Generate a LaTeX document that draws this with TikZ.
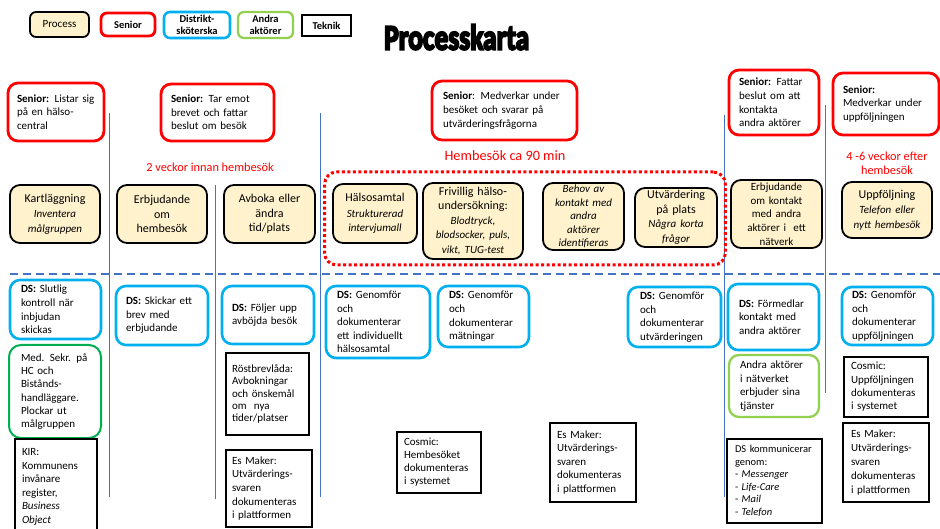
\documentclass[tikz,border=0pt]{standalone}
\usepackage{fontspec}
\usepackage{graphicx}
\setmainfont{Carlito}
\newfontfamily\titlefont[BoldFeatures={FakeBold=6}]{Carlito}
\definecolor{cream}{HTML}{FFF2CC}
\definecolor{dscyan}{HTML}{00B0F0}
\definecolor{lgreen}{HTML}{92D050}
\definecolor{dgreen}{HTML}{00B050}
\definecolor{laneblue}{HTML}{4472C4}
\definecolor{sred}{HTML}{FF0000}
\newcommand\subit[1]{{\fontsize{11}{13.5}\selectfont\itshape #1}}
% name, style, x1, y1, x2, y2, pad, text
\newcommand\bx[8]{%
  \pgfmathsetmacro\bxw{#5-#3}%
  \pgfmathsetmacro\bxh{#6-#4}%
  \pgfmathsetmacro\bxt{#5-#3-2*#7}%
  \node[#2, minimum width=\bxw pt, minimum height=\bxh pt, text width=\bxt pt] (#1) at ({(#3+#5)/2},{(#4+#6)/2}) {#8};}
\tikzset{
  bxbase/.style={inner sep=0pt, outer sep=0pt, font=\fontsize{11}{13.6}\selectfont},
  senior/.style={bxbase, draw=sred, fill=white, line width=2.8pt, rounded corners=10pt, align=left},
  proc/.style={bxbase, draw=black, line width=1.8pt, rounded corners=10pt, fill=cream, align=center, font=\fontsize{12}{14.5}\selectfont},
  ds/.style={bxbase, draw=dscyan, fill=white, line width=2.6pt, rounded corners=10pt, align=left},
  sekr/.style={bxbase, draw=dgreen, fill=white, line width=2pt, rounded corners=12pt, align=left, font=\fontsize{11}{13.3}\selectfont},
  other/.style={bxbase, draw=lgreen, fill=white, line width=2.3pt, rounded corners=10pt, align=left},
  tek/.style={bxbase, draw=black, fill=white, line width=2.2pt, align=left, font=\fontsize{11}{13.5}\selectfont},
  legend/.style={font=\fontsize{10.5}{12}\selectfont\bfseries, align=center, rounded corners=6pt},
  lane/.style={draw=laneblue, line width=0.9pt},
  redlbl/.style={text=sred, inner sep=0pt, font=\fontsize{12.3}{14}\selectfont, align=center},
  hbox/.style={draw=sred, line width=3pt, dash pattern=on 3pt off 2.5pt, rounded corners=12pt},
}
\begin{document}
\begin{tikzpicture}[x=1pt,y=-1pt]
\fill[white] (0,0) rectangle (940,529);
\useasboundingbox (0,0) rectangle (940,529);

% lanes
\coordinate (v1a) at (109,113); \coordinate (v1b) at (109,497);
\coordinate (v2a) at (215,185); \coordinate (v2b) at (215,499);
\coordinate (v3a) at (320,113); \coordinate (v3b) at (320,497);
\coordinate (v4a) at (724,115); \coordinate (v4b) at (724,497);
\coordinate (v5a) at (825,105); \coordinate (v5b) at (825,393);
\draw[lane] (v1a) -- (v1b);
\draw[lane] (v2a) -- (v2b);
\draw[lane] (v3a) -- (v3b);
\draw[lane] (v4a) -- (v4b);
\draw[lane] (v5a) -- (v5b);
\coordinate (hA) at (10,274); \coordinate (hB) at (940,274);
\draw[draw=laneblue, line width=1.8pt, dash pattern=on 8pt off 5pt] (hA) -- (hB);

% legend
\bx{lgP}{proc,legend,font=\fontsize{11}{12}\selectfont,rounded corners=6pt}{30}{12}{89}{37}{2}{Process}
\bx{lgS}{senior,legend}{101}{13}{155}{36}{2}{Senior}
\bx{lgD}{ds,legend}{164}{12}{230}{38}{2}{Distrikt-\\sköterska}
\bx{lgA}{other,legend}{238}{12}{293}{38}{2}{Andra\\aktörer}
\bx{lgT}{tek,legend,rounded corners=0pt}{302}{15}{351}{36}{2}{Teknik}

% title
\node[anchor=south west, inner sep=0pt] (title) at (384,50) {\resizebox{145pt}{25pt}{\titlefont\bfseries Processkarta}};

% senior row
\bx{s1}{senior}{8}{83}{104}{141}{9}{\textbf{Senior:} Listar sig\\på en hälso-\\central}
\bx{s2}{senior}{161}{84}{274}{141}{10}{\textbf{Senior:} Tar emot\\brevet och fattar\\beslut om besök}
\bx{s3}{senior}{432}{81}{577}{140}{11}{\textbf{Senior}: Medverkar under\\besöket och svarar på\\utvärderingsfrågorna}
\bx{s4}{senior}{729}{70}{819}{135}{10}{\textbf{Senior:} Fattar\\beslut om att\\kontakta\\andra aktörer}
\bx{s5}{senior}{833}{73}{939}{135}{10}{\textbf{Senior:}\\Medverkar under\\uppföljningen}

% red labels
\node[redlbl] (l1) at (210,167) {2 veckor innan hembesök};
\node[redlbl, font=\fontsize{14.3}{16}\selectfont] (l2) at (505,156) {Hembesök ca 90 min};
\node[redlbl] (l3) at (887,163) {4 -6 veckor efter\\hembesök};

% home visit frame
\bx{hb}{hbox}{328}{172}{722}{265}{0}{}

% process row
\bx{p1}{proc}{10}{185}{100}{243}{3}{Kartläggning\\[1pt]\subit{Inventera}\\\subit{målgruppen}}
\bx{p2}{proc}{117}{185}{207}{243}{3}{Erbjudande\\om\\hembesök}
\bx{p3}{proc}{224}{185}{315}{243}{3}{Avboka eller\\ändra\\tid/plats}
\bx{p4}{proc}{333}{184}{417}{243}{3}{Hälsosamtal\\[1pt]\subit{Strukturerad}\\\subit{intervjumall}}
\bx{p5}{proc}{423}{183}{523}{259}{3}{Frivillig hälso-\\undersökning:\\\subit{Blodtryck,}\\\subit{blodsocker, puls,}\\\subit{vikt, TUG-test}}
\bx{p6}{proc,font=\fontsize{11}{13.5}\selectfont\itshape}{543}{183}{624}{250}{3}{Behov av\\kontakt med\\andra\\aktörer\\identifieras}
\bx{p7}{proc}{635}{188}{717}{247}{3}{Utvärdering\\på plats\\\subit{Några korta}\\\subit{frågor}}
\bx{p8}{proc,font=\fontsize{11}{13.7}\selectfont}{731}{180}{822}{248}{3}{Erbjudande\\om kontakt\\med andra\\aktörer i\ \ ett\\nätverk}
\bx{p9}{proc}{842}{182}{932}{238}{3}{Uppföljning\\[1pt]\subit{Telefon eller}\\\subit{nytt hembesök}}

% DS row
\bx{d1}{ds}{10}{280}{101}{339}{11}{\textbf{DS:} Slutlig\\kontroll när\\inbjudan\\skickas}
\bx{d2}{ds}{116}{286}{208}{345}{10}{\textbf{DS:} Skickar ett\\brev med\\erbjudande}
\bx{d3}{ds}{222}{286}{314}{344}{10}{\textbf{DS:} Följer upp\\avböjda besök}
\bx{d4}{ds}{326}{286}{430}{358}{11}{\textbf{DS:} Genomför\\och\\dokumenterar\\ett individuellt\\hälsosamtal}
\bx{d5}{ds}{438}{286}{529}{347}{11}{\textbf{DS:} Genomför\\och\\dokumenterar\\mätningar}
\bx{d6}{ds}{628}{287}{721}{347}{12}{\textbf{DS:} Genomför\\och\\dokumenterar\\utvärderingen}
\bx{d7}{ds}{728}{284}{819}{350}{11}{\textbf{DS:} Förmedlar\\kontakt med\\andra aktörer}
\bx{d8}{ds}{842}{287}{933}{345}{10}{\textbf{DS:} Genomför\\och\\dokumenterar\\uppföljningen}

% other actors
\bx{g1}{sekr}{9}{345}{101}{438}{12}{Med. Sekr. på\\HC och\\Bistånds-\\handläggare.\\Plockar ut\\målgruppen}
\bx{g2}{other}{729}{355}{819}{417}{11}{Andra aktörer\\i nätverket\\erbjuder sina\\tjänster}

% technology
\bx{t1}{tek,font=\fontsize{11}{13.6}\selectfont}{15}{439}{97}{535}{7}{KIR:\\Kommunens\\invånare\\register,\\\textit{Business}\\\textit{Object}}
\bx{t2}{tek,font=\fontsize{11}{12.3}\selectfont}{226}{353}{309}{435}{6}{Röstbrevlåda:\\Avbokningar\\och önskemål\\om\ \ nya\\tider/platser}
\bx{t3}{tek,font=\fontsize{11}{13.7}\selectfont}{226}{450}{312}{527}{6}{Es Maker:\\Utvärderings-\\svaren\\dokumenteras\\i plattformen}
\bx{t4}{tek,font=\fontsize{11}{13}\selectfont}{397}{432}{481}{493}{7}{Cosmic:\\Hembesöket\\dokumenteras\\i systemet}
\bx{t5}{tek,font=\fontsize{11}{13.5}\selectfont}{550}{423}{636}{502}{7}{Es Maker:\\Utvärderings-\\svaren\\dokumenteras\\i plattformen}
\bx{t6}{tek,font=\fontsize{10.5}{12.6}\selectfont}{727}{439}{822}{523}{8}{DS kommunicerar\\genom:\\- \textit{Messenger}\\- \textit{Life-Care}\\- \textit{Mail}\\- \textit{Telefon}}
\bx{t7}{tek,font=\fontsize{11}{13.3}\selectfont}{844}{357}{928}{417}{7}{Cosmic:\\Uppföljningen\\dokumenteras\\i systemet}
\bx{t8}{tek,font=\fontsize{11}{13.9}\selectfont}{843}{423}{929}{502}{8}{Es Maker:\\Utvärderings-\\svaren\\dokumenteras\\i plattformen}
\end{tikzpicture}
\end{document}
